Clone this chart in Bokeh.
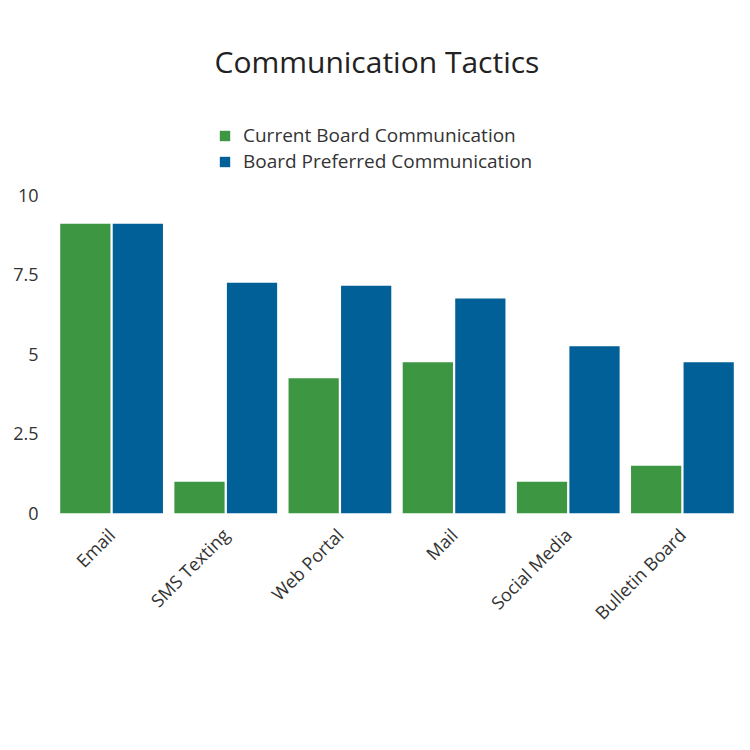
from bokeh.plotting import figure
from bokeh.models import ColumnDataSource, Legend, LegendItem, FactorRange, Range1d
from bokeh.transform import dodge
from bokeh.embed import file_html
from bokeh.resources import INLINE
import math

categories = ["Email", "SMS Texting", "Web Portal", "Mail", "Social Media", "Bulletin Board"]
current = [9.1, 1.0, 4.25, 4.75, 1.0, 1.5]
preferred = [9.1, 7.25, 7.15, 6.75, 5.25, 4.75]
yticks = [0, 2.5, 5, 7.5, 10]
series_labels = ["Current Board Communication", "Board Preferred Communication"]

FONT = "Open Sans"
GREEN = "#3d9642"
BLUE = "#006097"

src = ColumnDataSource(dict(cat=categories, cur=current, pref=preferred))

p = figure(width=750, height=750, x_range=FactorRange(*categories), y_range=Range1d(0, 12.97),
           output_backend="svg", toolbar_location=None,
           min_border_left=54, min_border_right=11, min_border_bottom=237, min_border_top=100)

r1 = p.vbar(x=dodge("cat", -0.23, range=p.x_range), top="cur", width=0.44, source=src,
            fill_color=GREEN, line_color=None)
r2 = p.vbar(x=dodge("cat", 0.23, range=p.x_range), top="pref", width=0.44, source=src,
            fill_color=BLUE, line_color=None)

p.title.text = "Communication Tactics"
p.title.align = "left"
p.title.text_font = FONT
p.title.text_font_style = "normal"
p.title.text_font_size = "30px"
p.title.text_color = "#222222"
p.title.standoff = 37
p.title.offset = 160


def make_legend(label, renderer, loc):
    return Legend(items=[LegendItem(label=label, renderers=[renderer])],
                  location=loc, orientation="vertical",
                  label_text_font=FONT, label_text_font_size="19px", label_text_color="#333333",
                  glyph_width=13, glyph_height=13, label_standoff=12, spacing=0,
                  padding=0, margin=0, border_line_color=None,
                  background_fill_alpha=0)


p.add_layout(make_legend(series_labels[0], r1, (164, 365)))
p.add_layout(make_legend(series_labels[1], r2, (164, 339)))

p.yaxis.ticker = yticks
p.yaxis.axis_line_color = None
p.yaxis.major_tick_line_color = None
p.yaxis.minor_tick_line_color = None
p.yaxis.major_label_standoff = 10
p.yaxis.major_label_text_font = FONT
p.yaxis.major_label_text_font_size = "18px"
p.yaxis.major_label_text_color = "#333333"
p.yaxis.major_label_overrides = {0: "0", 2.5: "2.5", 5: "5", 7.5: "7.5", 10: "10"}

p.xaxis.axis_line_color = None
p.xaxis.major_tick_line_color = None
p.xaxis.major_label_orientation = math.pi / 4
p.xaxis.major_label_standoff = 12
p.xaxis.major_label_text_font = FONT
p.xaxis.major_label_text_font_size = "18px"
p.xaxis.major_label_text_color = "#333333"

p.xgrid.grid_line_color = None
p.ygrid.grid_line_color = None
p.outline_line_color = None

open("out.html", "w").write(file_html(p, INLINE))
